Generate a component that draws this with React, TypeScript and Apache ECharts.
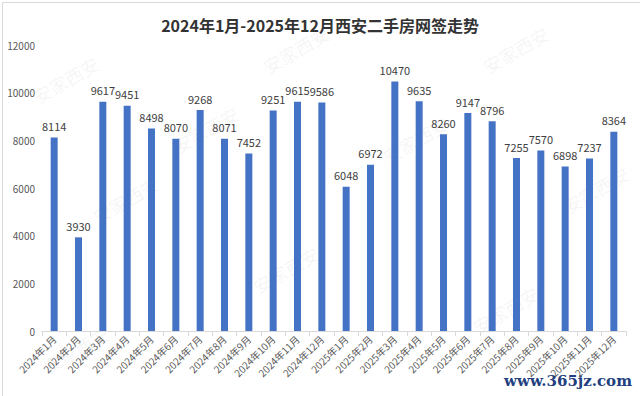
import React, { useEffect, useRef } from "react";
import * as echarts from "echarts";

const categories = [
  "2024年1月", "2024年2月", "2024年3月", "2024年4月", "2024年5月", "2024年6月",
  "2024年7月", "2024年8月", "2024年9月", "2024年10月", "2024年11月", "2024年12月",
  "2025年1月", "2025年2月", "2025年3月", "2025年4月", "2025年5月", "2025年6月",
  "2025年7月", "2025年8月", "2025年9月", "2025年10月", "2025年11月", "2025年12月",
];
const values = [
  8114, 3930, 9617, 9451, 8498, 8070, 9268, 8071, 7452, 9251, 9615, 9586,
  6048, 6972, 10470, 9635, 8260, 9147, 8796, 7255, 7570, 6898, 7237, 8364,
];
const titleText = "2024年1月-2025年12月西安二手房网签走势";
const watermarkText = "安家西安";
const siteText = "www.365jz.com";

export default function App() {
  const ref = useRef<HTMLDivElement>(null);
  useEffect(() => {
    if (!ref.current) return;
    const chart = echarts.init(ref.current, undefined, { renderer: "svg" });
    const marks = [
      [30, 90], [260, 60], [480, 60], [90, 210], [380, 150], [560, 200],
      [250, 280], [470, 320], [40, 360], [170, 140],
    ];
    chart.setOption({
      animation: false,
      backgroundColor: "#ffffff",
      title: {
        text: titleText,
        left: "center",
        top: 12,
        textStyle: {
          fontFamily: "Noto Sans CJK SC",
          fontSize: 16,
          fontWeight: "bold",
          color: "#333333",
        },
      },
      grid: { left: 42, right: 14, top: 45, bottom: 65, containLabel: false },
      xAxis: {
        type: "category",
        data: categories,
        axisLine: { lineStyle: { color: "#d9d9d9" } },
        axisTick: { show: true, lineStyle: { color: "#d9d9d9" } },
        axisLabel: {
          interval: 0,
          rotate: 45,
          fontSize: 10,
          color: "#595959",
          fontFamily: "Noto Sans CJK SC",
          margin: 6,
        },
      },
      yAxis: {
        type: "value",
        min: 0,
        max: 12000,
        interval: 2000,
        splitLine: { show: false },
        axisLine: { show: false },
        axisTick: { show: false },
        axisLabel: {
          fontSize: 10,
          color: "#595959",
          fontFamily: "Noto Sans CJK SC",
          margin: 7,
          formatter: (v: number) => String(v),
        },
      },
      graphic: [
        ...marks.map(([x, y]) => ({
          type: "text",
          x,
          y,
          rotation: Math.PI / 6,
          silent: true,
          z: -10,
          style: {
            text: watermarkText,
            fontSize: 18,
            fontFamily: "Noto Sans CJK SC",
            fill: "rgba(150,150,150,0.10)",
          },
        })),
        {
          type: "text",
          right: 8,
          bottom: 8,
          style: {
            text: siteText,
            fontSize: 15,
            fontFamily: "DejaVu Serif",
            fontWeight: "bold",
            fill: "#22407f",
          },
        },
        {
          type: "rect",
          left: 0,
          top: 0,
          shape: { width: 639, height: 395 },
          style: { fill: "none", stroke: "#d9d9d9", lineWidth: 1 },
          silent: true,
        },
      ],
      series: [
        {
          type: "bar",
          data: values,
          barWidth: 7,
          itemStyle: { color: "#4472c4" },
          label: {
            show: true,
            position: "top",
            fontSize: 11,
            color: "#404040",
            fontFamily: "Noto Sans CJK SC",
            distance: 6,
          },
        },
      ],
    });
    return () => chart.dispose();
  }, []);
  return (
    <div
      ref={ref}
      style={{ position: "fixed", left: 0, top: 0, width: 640, height: 396 }}
    />
  );
}
